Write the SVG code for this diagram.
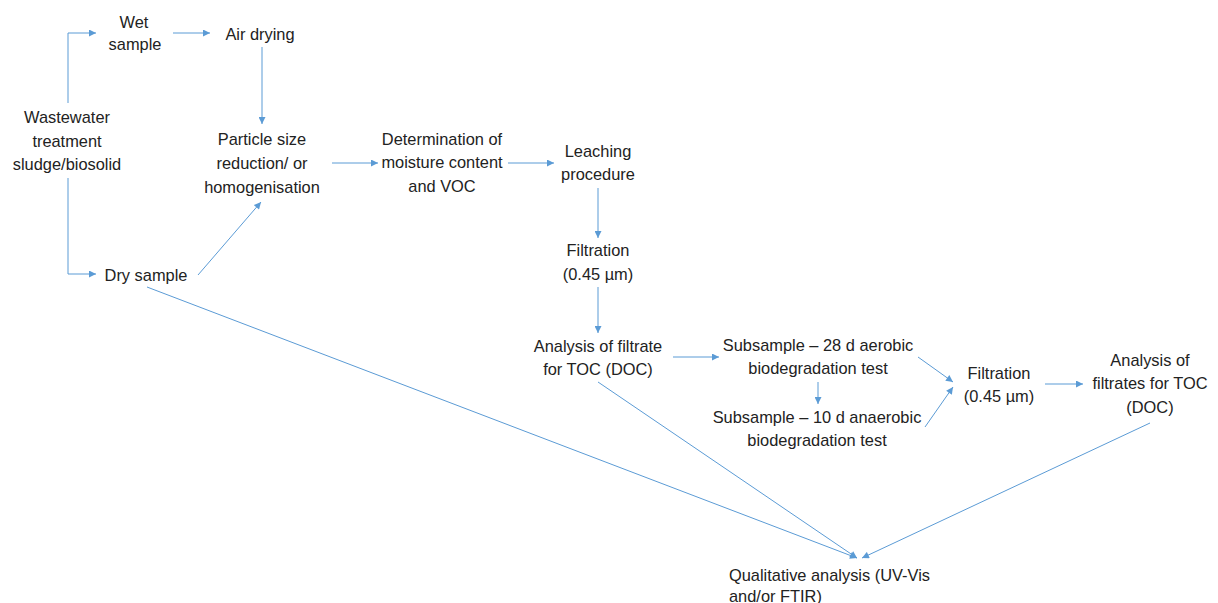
<svg xmlns="http://www.w3.org/2000/svg" width="1218" height="603" viewBox="0 0 1218 603">
<style>
text{font-family:"Liberation Sans",Arial,sans-serif;font-size:16.4px;fill:#222;text-anchor:middle}
.l{text-anchor:start}
.c{fill:none;stroke:#5B9BD5;stroke-width:1;marker-end:url(#ah)}
</style>
<defs>
<marker id="ah" viewBox="0 0 10 10" refX="10" refY="5" markerWidth="8" markerHeight="7" markerUnits="userSpaceOnUse" orient="auto">
<path d="M0,0 L10,5 L0,10 z" fill="#5B9BD5"/>
</marker>
</defs>
<rect width="1218" height="603" fill="#fff"/>
<g id="connectors">
<path class="c" d="M68,103 V33 H96"/>
<path class="c" d="M68,178 V274 H96"/>
<path class="c" d="M173,33 H210"/>
<path class="c" d="M262,47 V124"/>
<path class="c" d="M198,275 L261,202"/>
<path class="c" d="M332,163 H378"/>
<path class="c" d="M508,163 H554"/>
<path class="c" d="M598,188 V238"/>
<path class="c" d="M598,287 V333"/>
<path class="c" d="M673,357 H719"/>
<path class="c" d="M818,382 V404"/>
<path class="c" d="M918,357 L953,382"/>
<path class="c" d="M925,427 L953,387"/>
<path class="c" d="M1045,384 H1083"/>
<path class="c" d="M147,287 L857,558"/>
<path class="c" d="M598,382 L857,558"/>
<path class="c" d="M1150,423 L862,558"/>
</g>
<g id="wastewater"><text x="67" y="123">Wastewater</text><text x="67" y="147">treatment</text><text x="67" y="170">sludge/biosolid</text></g>
<g id="wet"><text x="134" y="28">Wet</text><text x="135" y="50">sample</text></g>
<g id="airdrying"><text x="260" y="40">Air drying</text></g>
<g id="dry"><text x="146" y="281">Dry sample</text></g>
<g id="particle"><text x="262" y="145">Particle size</text><text x="262" y="169">reduction/ or</text><text x="262" y="193">homogenisation</text></g>
<g id="determination"><text x="442" y="145">Determination of</text><text x="442" y="168">moisture content</text><text x="442" y="192">and VOC</text></g>
<g id="leaching"><text x="598" y="157">Leaching</text><text x="598" y="180">procedure</text></g>
<g id="filtration1"><text x="598" y="256">Filtration</text><text x="598" y="280">(0.45 µm)</text></g>
<g id="analysis1"><text x="598" y="352">Analysis of filtrate</text><text x="598" y="375">for TOC (DOC)</text></g>
<g id="sub28"><text x="818" y="351">Subsample – 28 d aerobic</text><text x="818" y="374">biodegradation test</text></g>
<g id="sub10"><text x="817" y="423">Subsample – 10 d anaerobic</text><text x="817" y="446">biodegradation test</text></g>
<g id="filtration2"><text x="999" y="379">Filtration</text><text x="999" y="402">(0.45 µm)</text></g>
<g id="analysis2"><text x="1150" y="366">Analysis of</text><text x="1150" y="389">filtrates for TOC</text><text x="1150" y="413">(DOC)</text></g>
<g id="qualitative"><text class="l" x="729" y="581">Qualitative analysis (UV-Vis</text><text class="l" x="729" y="602">and/or FTIR)</text></g>
</svg>
